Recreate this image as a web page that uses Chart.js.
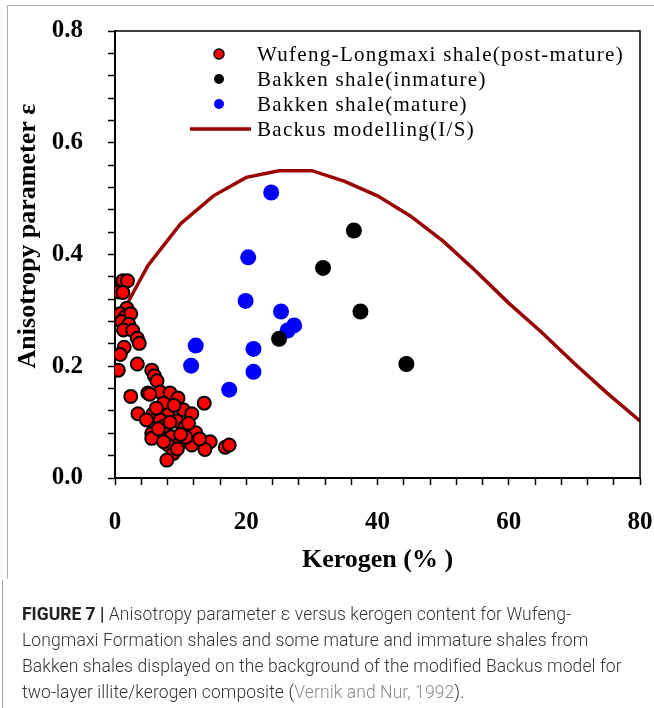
<!DOCTYPE html>
<html>
<head>
<meta charset="utf-8">
<script src="https://cdn.jsdelivr.net/npm/chart.js@4.4.0/dist/chart.umd.min.js"></script>
<style>
  html, body { margin: 0; padding: 0; background: #fff; }
  body { width: 654px; height: 708px; position: relative; overflow: hidden; }
  #frame { position: absolute; left: 7px; top: 5px; width: 660px; height: 573px;
           border-top: 1px solid #b0b0b0; border-left: 1px solid #b0b0b0; }
  #wrap { position: absolute; left: 0; top: 0; width: 654px; height: 590px; }
  #caption { position: absolute; left: 2px; top: 580px; width: 652px; height: 128px;
             border-left: 1px solid #a0a0a0; }
  #caption p { margin: 0; position: absolute; left: 19px; top: 22px; width: 640px;
               font-family: Roboto, "Liberation Sans", sans-serif; font-size: 17.5px; font-weight: 300;
               letter-spacing: 0.1px; line-height: 25.9px; color: #333; white-space: nowrap; }
  #caption b { color: #222; font-weight: 700; letter-spacing: 0; }
  #caption .ref { color: #8a8a8a; }
</style>
</head>
<body>
<div id="frame"></div>
<div id="wrap"><canvas id="c" width="654" height="590"></canvas></div>
<div id="caption"><p><b>FIGURE 7 |</b> Anisotropy parameter ε versus kerogen content for Wufeng-<br>Longmaxi Formation shales and some mature and immature shales from<br>Bakken shales displayed on the background of the modified Backus model for<br>two-layer illite/kerogen composite (<span class="ref">Vernik and Nur, 1992</span>).</p></div>
<script>
// Wufeng-Longmaxi shale (post-mature): kerogen (%) and anisotropy ε
const wufengKerogen = [1.2, 1.9, 0.5, 1.2, 1.8, 0.8, 1.6, 2.4, 1.0, 2.1, 1.3, 2.7, 3.4, 3.7, 1.4, 0.8,
  0.5, 3.4, 5.6, 6.0, 6.4, 2.4, 5.0, 6.9, 8.4, 13.6, 3.5, 5.8, 7.4, 10.4, 11.7, 8.1,
  9.4, 4.8, 10.7, 12.3, 5.6, 7.6, 8.6, 9.9, 14.5, 11.7, 13.7, 16.8, 17.4, 8.1, 8.9, 7.9,
  5.6, 5.3, 9.6, 6.9, 10.8, 7.4, 7.4, 6.3, 9.0, 11.2, 6.6, 10.0, 12.9, 8.4, 9.5];
const wufengEps = [0.353, 0.353, 0.333, 0.332, 0.304, 0.294, 0.289, 0.294, 0.280, 0.275, 0.265, 0.264, 0.250, 0.241, 0.234, 0.221,
  0.193, 0.204, 0.193, 0.183, 0.174, 0.146, 0.152, 0.154, 0.152, 0.134, 0.115, 0.115, 0.134, 0.122, 0.115, 0.113,
  0.102, 0.104, 0.092, 0.081, 0.080, 0.083, 0.074, 0.063, 0.065, 0.059, 0.051, 0.055, 0.059, 0.059, 0.044, 0.032,
  0.071, 0.150, 0.143, 0.104, 0.073, 0.065, 0.092, 0.125, 0.130, 0.098, 0.088, 0.078, 0.070, 0.100, 0.052];

// Bakken shale (immature)
const bakkenImmKerogen = [36.4, 31.7, 37.4, 25.0, 44.4];
const bakkenImmEps = [0.443, 0.376, 0.298, 0.249, 0.204];

// Bakken shale (mature)
const bakkenMatKerogen = [23.8, 20.3, 19.9, 25.3, 27.3, 26.3, 21.1, 21.1, 17.4, 12.3, 11.6];
const bakkenMatEps = [0.511, 0.395, 0.317, 0.298, 0.273, 0.264, 0.231, 0.190, 0.158, 0.237, 0.201];

// Backus model curve for illite/kerogen layering
const backusKerogen = [2, 5, 10, 15, 20, 25, 30, 35, 40, 45, 50, 55, 60, 65, 70, 75, 80];
const backusEps = [0.315, 0.380, 0.455, 0.505, 0.538, 0.550, 0.550, 0.531, 0.505, 0.469, 0.424, 0.370, 0.313, 0.261, 0.205, 0.152, 0.102];

// Axis tick settings
const xMajorStep = 20, xMinorStep = 4;
const yMajorStep = 0.2, yMinorStep = 0.04;

const seriesNames = ['Wufeng-Longmaxi shale(post-mature)', 'Bakken shale(inmature)', 'Bakken shale(mature)', 'Backus modelling(I/S)'];

const toPoints = (xs, ys) => xs.map((x, i) => ({ x: x, y: ys[i] }));
const isMultiple = (v, step) => Math.abs(v / step - Math.round(v / step)) < 1e-6;

const serif = '"Liberation Serif", "DejaVu Serif", serif';

// Top and right edges of the plot box
const boxPlugin = {
  id: 'box',
  afterDraw(chart) {
    const { ctx, chartArea: a } = chart;
    ctx.save();
    ctx.strokeStyle = '#000';
    ctx.lineWidth = 1.5;
    ctx.beginPath();
    ctx.moveTo(a.left, a.top);
    ctx.lineTo(a.right, a.top);
    ctx.lineTo(a.right, a.bottom);
    ctx.stroke();
    ctx.restore();
  }
};

// Rotated y-axis title
const yTitlePlugin = {
  id: 'yTitle',
  afterDraw(chart) {
    const { ctx } = chart;
    ctx.save();
    ctx.translate(28, 236);
    ctx.rotate(-Math.PI / 2);
    ctx.font = 'bold 26px ' + serif;
    ctx.fillStyle = '#000';
    ctx.textAlign = 'center';
    ctx.textBaseline = 'middle';
    ctx.fillText('Anisotropy parameter ε', 0, 0);
    ctx.restore();
  }
};

// Legend drawn inside the plot, near the top
const legendPlugin = {
  id: 'insideLegend',
  afterDraw(chart) {
    const { ctx } = chart;
    const markerX = 219, textX = 257, firstRow = 54, rowH = 25;
    ctx.save();
    ctx.font = '21px ' + serif;
    if ('letterSpacing' in ctx) ctx.letterSpacing = '1.3px';
    ctx.textBaseline = 'middle';
    ctx.textAlign = 'left';
    chart.data.datasets.forEach((ds, i) => {
      const y = firstRow + i * rowH;
      if (ds.showLine) {
        ctx.strokeStyle = ds.borderColor;
        ctx.lineWidth = ds.borderWidth;
        ctx.beginPath();
        ctx.moveTo(190, y);
        ctx.lineTo(251, y);
        ctx.stroke();
      } else {
        ctx.beginPath();
        ctx.arc(markerX, y, 5, 0, Math.PI * 2);
        ctx.fillStyle = ds.backgroundColor;
        ctx.fill();
        if (ds.borderWidth > 0) {
          ctx.lineWidth = 1.5;
          ctx.strokeStyle = ds.borderColor;
          ctx.stroke();
        }
      }
      ctx.fillStyle = '#000';
      ctx.fillText(ds.label, textX, y + 1);
    });
    ctx.restore();
  }
};

new Chart(document.getElementById('c'), {
  type: 'scatter',
  data: {
    datasets: [
      {
        label: seriesNames[0],
        data: toPoints(wufengKerogen, wufengEps),
        backgroundColor: '#ff0000',
        borderColor: '#000000',
        borderWidth: 2,
        pointRadius: 6.5,
        order: 1
      },
      {
        label: seriesNames[1],
        data: toPoints(bakkenImmKerogen, bakkenImmEps),
        backgroundColor: '#000000',
        borderColor: '#000000',
        borderWidth: 0,
        pointRadius: 8,
        order: 2
      },
      {
        label: seriesNames[2],
        data: toPoints(bakkenMatKerogen, bakkenMatEps),
        backgroundColor: '#0000ff',
        borderColor: '#0000ff',
        borderWidth: 0,
        pointRadius: 8,
        order: 3
      },
      {
        label: seriesNames[3],
        data: toPoints(backusKerogen, backusEps),
        showLine: true,
        borderColor: '#990000',
        backgroundColor: '#990000',
        borderWidth: 3.5,
        pointRadius: 0,
        tension: 0,
        order: 10
      }
    ]
  },
  options: {
    responsive: false,
    animation: false,
    devicePixelRatio: 1,
    layout: { padding: { left: 0, right: 14, top: 31, bottom: 0 } },
    plugins: { legend: { display: false }, tooltip: { enabled: false } },
    scales: {
      x: {
        type: 'linear',
        min: 0,
        max: 80,
        border: { display: true, color: '#000', width: 2 },
        grid: { drawOnChartArea: false, drawTicks: true, tickLength: 7, color: '#000', tickWidth: 1.5 },
        ticks: {
          stepSize: xMinorStep,
          autoSkip: false,
          maxRotation: 0,
          padding: 23,
          color: '#000',
          font: { family: serif, size: 25, weight: 'bold' },
          callback: v => isMultiple(v, xMajorStep) ? String(Math.round(v)) : ''
        },
        title: {
          display: true,
          text: 'Kerogen (% )',
          color: '#000',
          font: { family: serif, size: 26, weight: 'bold' },
          padding: { top: 0, bottom: 14 }
        },
        afterFit: s => { s.height = 112; s.paddingLeft = 0; s.paddingRight = 0; }
      },
      y: {
        type: 'linear',
        min: 0,
        max: 0.8,
        border: { display: true, color: '#000', width: 2 },
        grid: { drawOnChartArea: false, drawTicks: true, tickLength: 7, color: '#000', tickWidth: 1.5 },
        ticks: {
          stepSize: yMinorStep,
          autoSkip: false,
          padding: 25,
          color: '#000',
          font: { family: serif, size: 25, weight: 'bold' },
          callback: v => isMultiple(v, yMajorStep) ? v.toFixed(1) : ''
        },
        afterFit: s => { s.width = 115; s.paddingTop = 0; s.paddingBottom = 0; }
      }
    }
  },
  plugins: [boxPlugin, yTitlePlugin, legendPlugin]
});
</script>
</body>
</html>
